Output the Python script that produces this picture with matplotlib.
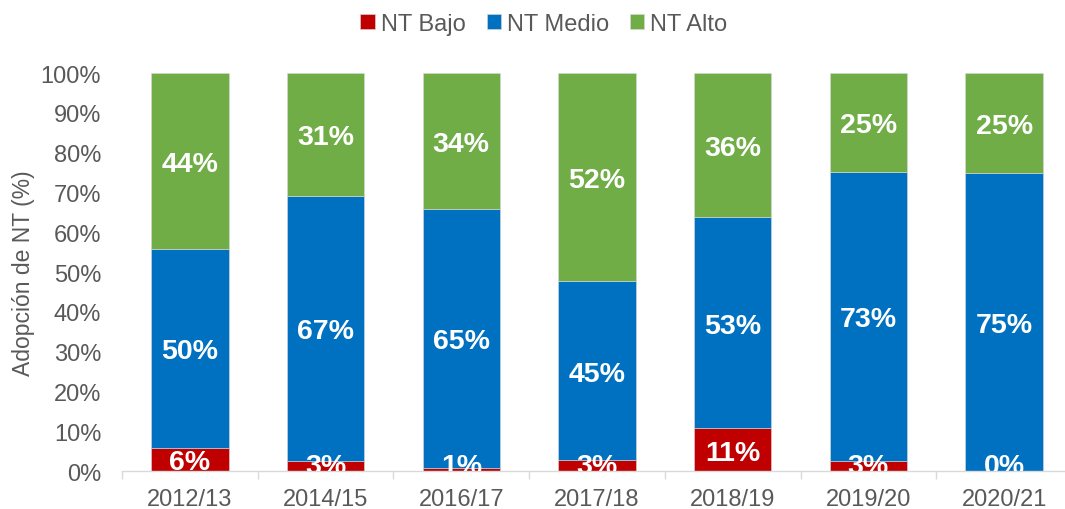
import numpy as np
import matplotlib.pyplot as plt

plt.rcParams['font.family'] = ['Liberation Sans', 'DejaVu Sans']

years = ["2012/13", "2014/15", "2016/17", "2017/18", "2018/19", "2019/20", "2020/21"]
nt_bajo = [5.8, 2.6, 0.8, 2.7, 10.8, 2.6, 0.0]
nt_medio = [50.1, 66.6, 65.1, 45.0, 52.9, 72.6, 74.8]
nt_alto = [44.1, 30.8, 34.1, 52.3, 36.3, 24.8, 25.2]

series = [("NT Bajo", nt_bajo, "#C00000"),
          ("NT Medio", nt_medio, "#0070C0"),
          ("NT Alto", nt_alto, "#70AD47")]

gray = "#595959"

fig = plt.figure(figsize=(10.65, 5.1), dpi=100)
ax = fig.add_axes([0.1146, 0.0745, 0.892, 0.7804])

x = np.arange(len(years))
bottom = np.zeros(len(years))
for name, vals, color in series:
    vals = np.array(vals)
    ax.bar(x, vals, 0.57, bottom=bottom, color=color, label=name,
           edgecolor="#d9d9d9", linewidth=0.4)
    for xi, b, v in zip(x, bottom, vals):
        yc = max(b + v / 2, 2.1)
        ax.text(xi, yc, f"{v:.0f}%", ha="center", va="center_baseline", color="white",
                fontsize=20.5, fontweight="bold", clip_on=True)
    bottom += vals

ax.set_xlim(-0.5, len(years) - 0.5)
ax.set_ylim(0, 100)
ax.set_yticks(np.arange(0, 101, 10))
ax.set_yticklabels([f"{v}%" for v in range(0, 101, 10)])
ax.set_xticks(x)
ax.set_xticklabels(years)
ax.set_xticks(np.arange(-0.5, len(years), 1), minor=True)
ax.tick_params(axis="x", which="major", length=0, pad=12, labelsize=17, labelcolor=gray)
ax.tick_params(axis="x", which="minor", length=6, color="#d9d9d9", width=1)
ax.tick_params(axis="y", length=0, pad=15, labelsize=17, labelcolor=gray)

for s in ["top", "right", "left"]:
    ax.spines[s].set_visible(False)
ax.spines["bottom"].set_color("#d9d9d9")
ax.spines["bottom"].set_linewidth(1)

ax.set_ylabel("Adopción de NT (%)", fontsize=16.5, color=gray, labelpad=4)

ax.legend(loc="upper center", bbox_to_anchor=(0.444, 1.205), ncol=3,
          frameon=False, fontsize=17, labelcolor=gray, handlelength=0.6,
          handleheight=0.6, handletextpad=0.25, columnspacing=0.9)

fig.savefig("out.png", dpi=100)
